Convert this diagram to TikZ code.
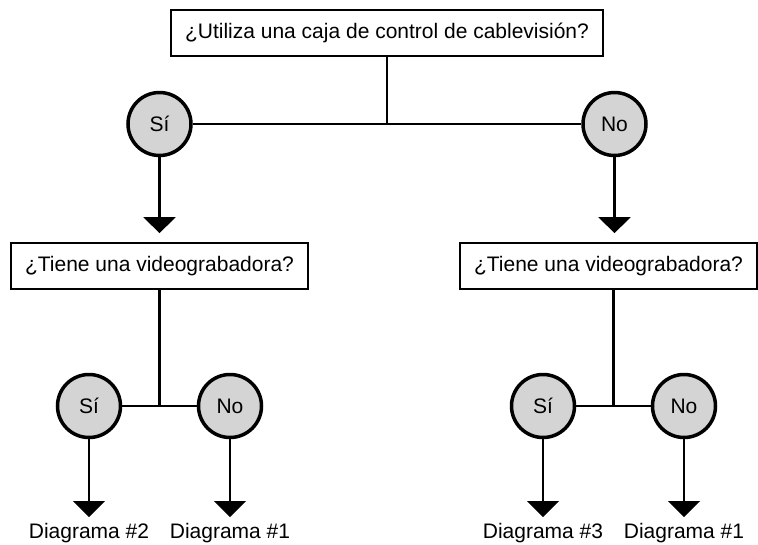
\documentclass[tikz,border=0pt]{standalone}
\usepackage{fontspec}
\setmainfont{Liberation Sans}
\usetikzlibrary{arrows.meta}
\definecolor{answergray}{gray}{0.83}

\begin{document}
\begin{tikzpicture}[
        x=1pt, y=1pt,
        grow=down,
        font=\fontsize{21}{25}\selectfont,
        question/.style={draw, line width=1.7pt, inner xsep=14pt, minimum height=46pt},
        answer/.style={circle, draw, line width=3.5pt, fill=answergray, minimum size=63pt, inner sep=0pt},
        result/.style={inner sep=0pt},
        fork/.style={edge from parent/.style={draw, line width=2.2pt},
            edge from parent path={([xshift=#1]\tikzparentnode.south) |- (\tikzchildnode)}},
        fork/.default=0pt,
        pointer/.style={edge from parent/.style={draw, line width=2.2pt, -{Triangle[width=32pt,length=16pt]}, shorten >=#1},
            edge from parent path={(\tikzparentnode.south) -- (\tikzparentnode.south |- \tikzchildnode.north)}},
        level 1/.style={sibling distance=455pt, level distance=91pt},
        level 2/.style={level distance=142pt},
        level 3/.style={sibling distance=141pt, level distance=140pt},
        level 4/.style={level distance=127pt}
        ]
    \useasboundingbox (0,0) rectangle (758,-544);
    \node [question] (cable) at (387,-33) {¿Utiliza una caja de control de cablevisión?}
        child [fork] {node [answer] (si) {Sí}
            child [pointer=9pt] {node [question] (vcrA) {¿Tiene una videograbadora?}
                child [fork] {node [answer] (siA) {Sí}
                    child [pointer=6pt] {node [result] (diag2) {Diagrama \#2}}
                }
                child [fork] {node [answer] (noA) {No}
                    child [pointer=6pt] {node [result] (diag1A) {Diagrama \#1}}
                }
            }
        }
        child [fork] {node [answer] (no) {No}
            child [pointer=9pt] {node [question, xshift=-6pt] (vcrB) {¿Tiene una videograbadora?}
                child [fork=5pt, xshift=5pt] {node [answer] (siB) {Sí}
                    child [pointer=6pt] {node [result] (diag3) {Diagrama \#3}}
                }
                child [fork=5pt, xshift=5pt] {node [answer] (noB) {No}
                    child [pointer=6pt] {node [result] (diag1B) {Diagrama \#1}}
                }
            }
        };
\end{tikzpicture}
\end{document}
